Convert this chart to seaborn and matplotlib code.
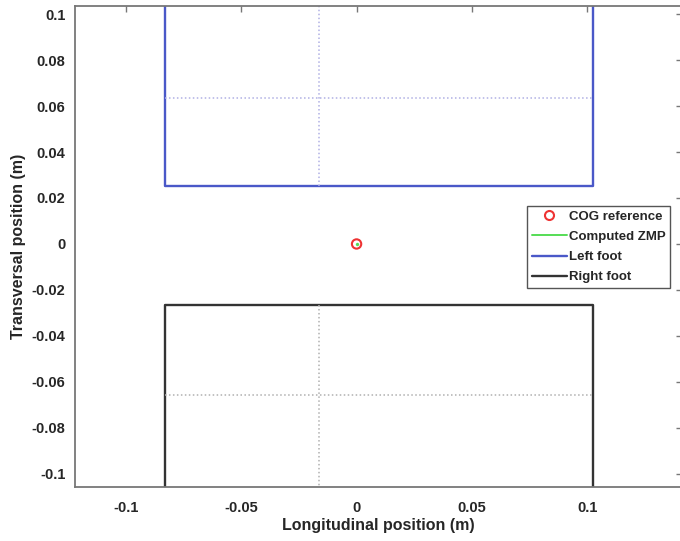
import matplotlib
matplotlib.use("Agg")
import matplotlib.pyplot as plt
import seaborn as sns
import pandas as pd
from matplotlib.lines import Line2D

# ---- data ----
foot_x = [-0.083, -0.083, 0.1025, 0.1025]
left_foot_y = [0.13, 0.025, 0.025, 0.13]
right_foot_y = [-0.13, -0.0265, -0.0265, -0.13]
foot_center_x = -0.0163
left_center_y = 0.0633
right_center_y = -0.0657
cog_x = [0.0]
cog_y = [0.0]
zmp_x = [0.0]
zmp_y = [0.0]
xticks = [-0.1, -0.05, 0, 0.05, 0.1]
xtick_labels = ["-0.1", "-0.05", "0", "0.05", "0.1"]
yticks = [0.1, 0.08, 0.06, 0.04, 0.02, 0, -0.02, -0.04, -0.06, -0.08, -0.1]
ytick_labels = ["0.1", "0.08", "0.06", "0.04", "0.02", "0", "-0.02", "-0.04", "-0.06", "-0.08", "-0.1"]

BLUE = "#4a58c8"
BLACK = "#333333"
GREEN = "#55dd55"
RED = "#ee3333"

sns.set_style("white")
plt.rcParams['font.family'] = ['Liberation Sans', 'DejaVu Sans']

fig = plt.figure(figsize=(6.8, 5.41), dpi=100)
ax = fig.add_axes([75/680, 1-487/541, 607/680, 481/541])

lf = pd.DataFrame({"x": foot_x, "y": left_foot_y})
rf = pd.DataFrame({"x": foot_x, "y": right_foot_y})
sns.lineplot(data=lf, x="x", y="y", sort=False, estimator=None, color=BLUE, lw=1.7, ax=ax)
sns.lineplot(data=rf, x="x", y="y", sort=False, estimator=None, color=BLACK, lw=1.7, ax=ax)

# dotted center lines
dot = (0, (1, 1.6))
ax.plot([foot_x[0], foot_x[2]], [left_center_y, left_center_y], ls=dot, color="#b0b0e4", lw=1.1)
ax.plot([foot_center_x, foot_center_x], [left_foot_y[1], left_foot_y[0]], ls=dot, color="#b0b0e4", lw=1.1)
ax.plot([foot_x[0], foot_x[2]], [right_center_y, right_center_y], ls=dot, color="#b0b0b0", lw=1.1)
ax.plot([foot_center_x, foot_center_x], [right_foot_y[1], right_foot_y[0]], ls=dot, color="#b0b0b0", lw=1.1)

sns.scatterplot(x=cog_x, y=cog_y, marker="o", s=45, facecolors="none", edgecolor=RED, linewidth=1.5, ax=ax, zorder=5)
sns.scatterplot(x=zmp_x, y=zmp_y, marker="o", s=5, color=GREEN, edgecolor=GREEN, ax=ax, zorder=6)

ax.set_xlim(-0.122, 0.141)
ax.set_ylim(-0.1057, 0.1035)
ax.set_xticks(xticks)
ax.set_xticklabels(xtick_labels)
ax.set_yticks(yticks)
ax.set_yticklabels(ytick_labels)
ax.tick_params(direction="in", length=4, width=1, color="#777777", top=True, right=True,
               labelsize=10.5)
ax.tick_params(axis="x", pad=10)
ax.tick_params(axis="y", pad=7)
for lab in ax.get_xticklabels() + ax.get_yticklabels():
    lab.set_fontweight("bold")
for s in ax.spines.values():
    s.set_color("#777777")
    s.set_linewidth(1.3)

ax.set_xlabel("Longitudinal position (m)", fontsize=11.5, fontweight="bold", labelpad=2)
ax.set_ylabel("Transversal position (m)", fontsize=11.5, fontweight="bold", labelpad=4)

handles = [
    Line2D([], [], ls="none", marker="o", mfc="none", mec=RED, ms=6.5, mew=1.5, label="COG reference"),
    Line2D([], [], color=GREEN, lw=1.4, label="Computed ZMP"),
    Line2D([], [], color=BLUE, lw=1.7, label="Left foot"),
    Line2D([], [], color=BLACK, lw=1.7, label="Right foot"),
]
leg = ax.legend(handles=handles, loc="upper left", bbox_to_anchor=(527/680, 1-206/541),
                bbox_transform=fig.transFigure, borderaxespad=0, fancybox=False,
                edgecolor="#555555", framealpha=1, prop={"weight": "bold", "size": 9.5},
                handlelength=2.7, handletextpad=0.12, labelspacing=0.6, borderpad=0.35)
leg.get_frame().set_linewidth(1.0)

fig.savefig("out.png", dpi=100)
